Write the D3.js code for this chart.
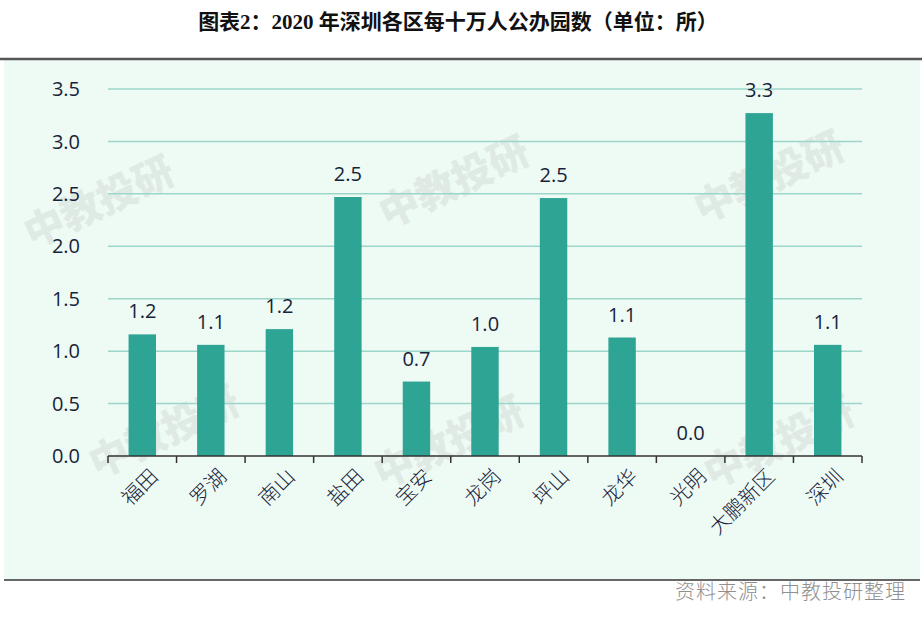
<!DOCTYPE html>
<html><head><meta charset="utf-8">
<script src="https://cdn.jsdelivr.net/npm/d3@7"></script>
<style>body{margin:0;background:#fff}svg{display:block}</style>
</head><body>
<svg id="c" width="924" height="620"></svg>
<script>
const categories = ["福田","罗湖","南山","盐田","宝安","龙岗","坪山","龙华","光明","大鹏新区","深圳"];
const values = [1.16, 1.06, 1.21, 2.47, 0.71, 1.04, 2.46, 1.13, 0.0, 3.27, 1.06];
const yTicks = [0, 0.5, 1.0, 1.5, 2.0, 2.5, 3.0, 3.5];
const title = "图表2：2020 年深圳各区每十万人公办园数（单位：所）";
const source = "资料来源：中教投研整理";

const svg = d3.select("#c");
const cjk = "'Noto Sans CJK SC', sans-serif";
const num = "'Open Sans', 'DejaVu Sans', sans-serif";

svg.append("text").attr("x", 458).attr("y", 29).attr("text-anchor", "middle")
  .attr("font-family", "'Liberation Serif','Noto Sans CJK SC',serif").attr("font-weight", 700)
  .attr("font-size", 21).attr("fill", "#111").text(title);

// panel
svg.append("rect").attr("x", 4).attr("y", 60).attr("width", 916).attr("height", 519).attr("fill", "#eefaf4");
svg.append("line").attr("x1", 0).attr("x2", 922).attr("y1", 59).attr("y2", 59).attr("stroke", "#555").attr("stroke-width", 2.5);
svg.append("line").attr("x1", 4).attr("x2", 920).attr("y1", 580).attr("y2", 580).attr("stroke", "#666").attr("stroke-width", 2);

// watermarks
const wm = [[105,215],[460,195],[775,190],[170,445],[455,455],[785,455]];
wm.forEach(([x,y]) => svg.append("text").attr("transform", `translate(${x},${y}) rotate(-25)`)
  .attr("text-anchor","middle").attr("font-family", cjk).attr("font-weight",900)
  .attr("font-size", 40).attr("fill", "#c8cfcc").attr("opacity", 0.35).text("中教投研"));

const x = d3.scaleBand().domain(categories).range([108, 862]).paddingInner(0.6).paddingOuter(0.3);
const y = d3.scaleLinear().domain([0, 3.5]).range([456, 89]);

// grid
svg.append("g").selectAll("line").data(yTicks.filter(d => d > 0)).join("line")
  .attr("x1", 108).attr("x2", 862).attr("y1", d => y(d)).attr("y2", d => y(d))
  .attr("stroke", "#9cd6c9").attr("stroke-width", 1.5);

// y labels
svg.append("g").selectAll("text").data(yTicks).join("text")
  .attr("x", 80).attr("y", d => y(d)).attr("dy", "0.36em").attr("text-anchor", "end")
  .attr("font-family", num).attr("font-size", 20).attr("fill", "#17233a").text(d => d.toFixed(1));

// bars
svg.append("g").selectAll("rect").data(values).join("rect")
  .attr("x", (d,i) => x(categories[i])).attr("width", x.bandwidth())
  .attr("y", d => y(d)).attr("height", d => y(0) - y(d)).attr("fill", "#2ea494");

// value labels
svg.append("g").selectAll("text").data(values).join("text")
  .attr("x", (d,i) => x(categories[i]) + x.bandwidth()/2).attr("y", d => y(d) - 16)
  .attr("text-anchor", "middle").attr("font-family", num).attr("font-size", 20).attr("fill", "#17233a")
  .text(d => d.toFixed(1));

// x axis
const edges = d3.range(categories.length + 1).map(i => 108 + i * (862 - 108) / categories.length);
svg.append("line").attr("x1", 108).attr("x2", 862).attr("y1", 456).attr("y2", 456).attr("stroke", "#333").attr("stroke-width", 1.5);
svg.append("g").selectAll("line").data(edges).join("line")
  .attr("x1", d => d).attr("x2", d => d).attr("y1", 456).attr("y2", 463).attr("stroke", "#333").attr("stroke-width", 1.5);

svg.append("g").selectAll("text").data(categories).join("text")
  .attr("transform", d => `translate(${x(d) + x.bandwidth()/2 + 6},${467}) rotate(-45)`)
  .attr("text-anchor", "end").attr("dy", "0.75em")
  .attr("font-family", cjk).attr("font-weight", 300).attr("font-size", 20.5).attr("fill", "#17233a").text(d => d);

svg.append("text").attr("x", 906).attr("y", 599).attr("text-anchor", "end")
  .attr("font-family", cjk).attr("font-weight", 300)
  .attr("font-size", 20).attr("fill", "#8f8f8f").attr("letter-spacing", 1).text(source);
</script>
</body></html>
